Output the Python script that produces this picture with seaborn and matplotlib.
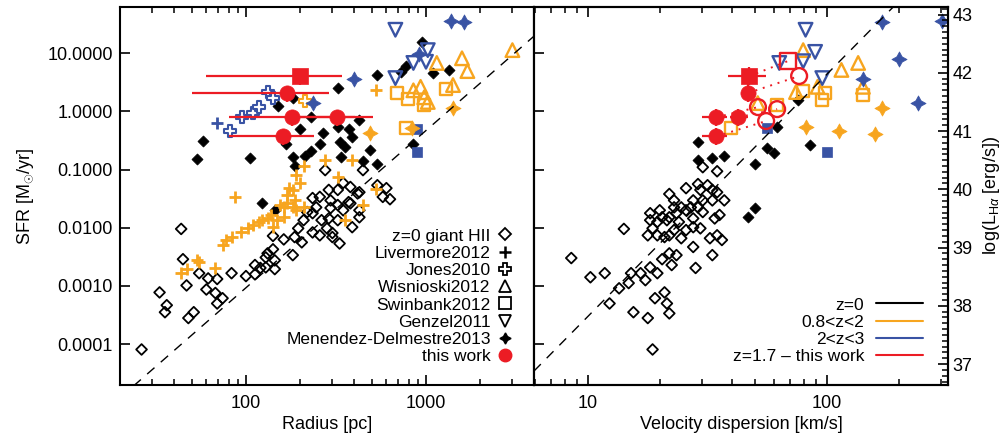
import numpy as np
import matplotlib
matplotlib.use('Agg')
import matplotlib.pyplot as plt
import seaborn as sns
from matplotlib.lines import Line2D
from matplotlib.ticker import FixedLocator, FuncFormatter, NullLocator, NullFormatter, MultipleLocator

ORANGE = '#F7A51F'
BLUE = '#3953A4'
RED = '#EC1C24'

# ---------------- left panel: log10 radius [pc] vs log10 SFR ----------------
hii_logr = [1.42, 1.52, 1.55, 1.56, 1.64, 1.65, 1.67, 1.68, 1.71, 1.74,
            1.78, 1.79, 1.84, 1.83, 1.87, 1.84, 1.92, 2.00, 2.05, 2.05,
            2.08, 2.11, 2.11, 2.12, 2.15, 2.16, 2.16, 2.15, 2.21, 2.26,
            2.27, 2.29, 2.31, 2.32, 2.37, 2.37, 2.41, 2.45, 2.48, 2.39,
            2.51, 2.37, 2.34, 2.46, 2.47, 2.51, 2.52, 2.59, 2.57, 2.63,
            2.63, 2.73, 2.76, 2.80, 2.78, 2.44, 2.65, 2.46, 2.51, 2.54,
            2.58, 2.47, 2.41, 2.42, 2.62, 2.63, 2.48, 2.54, 2.58]
hii_logsfr = [-4.09, -3.11, -3.45, -3.33, -2.02, -2.54, -2.99, -3.55, -3.45, -2.78,
              -3.06, -2.87, -2.88, -3.12, -3.21, -3.30, -2.78, -2.83, -2.80, -2.64,
              -2.69, -2.68, -2.51, -2.44, -2.37, -2.71, -2.56, -2.14, -2.20, -2.47,
              -2.16, -2.01, -2.25, -1.87, -1.75, -2.08, -2.13, -2.01, -2.16, -1.65,
              -1.87, -1.49, -1.73, -1.84, -1.66, -1.61, -2.27, -1.99, -1.56, -1.39,
              -1.70, -1.27, -1.47, -1.51, -1.32, -1.01, -1.01, -1.35, -1.35, -1.23,
              -1.30, -1.53, -1.47, -1.87, -1.41, -1.82, -2.09, -1.70, -1.58]

local_logr = [2.98, 2.89, 2.86, 2.73, 3.04, 3.13, 2.51, 2.26, 2.18, 2.36,
              2.63, 2.30, 2.51, 2.57, 2.43, 2.59, 2.52, 2.55, 2.22, 2.41,
              2.36, 2.69, 2.26, 2.53, 2.27, 2.65, 2.73, 1.76, 1.73, 2.02,
              2.93, 2.09, 2.16, 2.33]
local_logsfr = [1.19, 0.78, 0.67, 0.62, 0.66, 0.71, 0.40, 0.23, 0.09, -0.10,
                -0.15, -0.31, -0.27, -0.31, -0.38, -0.44, -0.53, -0.62, -0.56, -0.56,
                -0.68, -0.67, -0.79, -0.79, -0.94, -0.86, -0.91, -0.51, -0.82, -0.80,
                -0.56, -1.58, -1.70, -0.77]

liv_logr = [1.64, 1.67, 1.73, 1.74, 1.83, 1.87, 1.89, 1.92, 1.97, 2.01,
            2.04, 2.07, 2.09, 2.12, 2.14, 2.17, 2.21, 2.15, 2.19, 2.21,
            2.23, 2.26, 2.23, 2.27, 2.28, 2.32, 2.26, 1.94, 2.28, 2.30,
            2.32, 2.44, 2.51, 2.55, 2.59, 2.65, 2.72, 2.72, 2.24]
liv_logsfr = [-2.78, -2.71, -2.56, -2.59, -2.69, -2.30, -2.21, -2.16, -2.08, -2.01,
              -1.96, -1.90, -1.87, -1.84, -1.78, -1.87, -1.82, -1.99, -1.61, -1.65,
              -1.58, -1.35, -1.44, -1.53, -1.70, -1.65, -1.65, -1.47, -1.10, -1.23,
              -0.94, -0.84, -1.13, -1.87, -0.84, -1.61, -1.34, 0.36, -1.32]
liv_hz_logr = [1.84]
liv_hz_logsfr = [-0.20]

jones_logr = [1.91, 1.98, 2.04, 2.07, 2.12, 2.15]
jones_logsfr = [-0.34, -0.10, -0.03, 0.07, 0.33, 0.23]
jones_lz_logr = [2.33]
jones_lz_logsfr = [0.18]

wis_logr = [3.06, 3.20, 3.23, 3.48, 3.15, 2.97, 2.93, 3.01, 2.99]
wis_logsfr = [0.83, 0.91, 0.69, 1.05, 0.45, 0.42, 0.36, 0.16, 0.24]

swin_logr = [2.84, 2.90, 2.99, 3.11, 2.89]
swin_logsfr = [0.31, 0.21, 0.11, 0.38, -0.29]
swin_hz_logr = [2.95, 2.95]
swin_hz_logsfr = [-0.31, -0.70]

genz_logr = [2.83, 3.01, 2.93, 3.00, 2.83]
genz_logsfr = [1.40, 1.05, 0.83, 0.85, 0.57]

men_lz_logr = [3.15, 2.69, 2.92]
men_lz_logsfr = [0.06, -0.38, -0.29]
men_hz_logr = [2.60, 2.37, 3.14, 3.21, 2.96]
men_hz_logsfr = [0.55, 0.14, 1.55, 1.53, 0.98]

# this work (first entry is the square)
tw_sfr = [4.0, 2.06, 0.79, 0.79, 0.37]
tw_sfr_err_dex = [0.15, 0.15, 0.15, 0.15, 0.15]
tw_r = [200, 169, 180, 320, 161]
tw_r_lo = [60, 50, 80, 175, 80]
tw_r_hi = [341, 289, 404, 508, 239]

# ---------------- right panel: log10 sigma [km/s] vs log10 SFR ----------------
hii_logsig = [1.48, 1.54, 1.34, 1.36, 1.41, 1.46, 1.47, 1.50, 1.52, 1.54,
              1.57, 1.52, 1.48, 1.44, 1.43, 1.41, 1.39, 1.37, 1.34, 1.33,
              1.31, 1.29, 1.26, 1.26, 1.30, 1.36, 1.46, 1.48, 1.55, 1.53,
              1.47, 1.44, 1.44, 1.38, 1.36, 1.34, 1.32, 1.29, 1.25, 1.27,
              1.15, 1.39, 1.41, 1.51, 1.54, 1.56, 1.52, 1.44, 1.37, 1.34,
              1.31, 1.35, 1.45, 1.26, 1.29, 1.24, 1.18, 1.17, 1.13, 1.07,
              1.01, 0.93, 1.09, 1.19, 1.28, 1.32, 1.33, 1.34, 1.25, 1.27,
              1.22]
hii_logsfr_s = [-0.96, -1.03, -1.42, -1.53, -1.32, -1.25, -1.35, -1.27, -1.35, -1.39,
                -1.53, -1.53, -1.53, -1.53, -1.65, -1.70, -1.65, -1.75, -1.82, -1.87,
                -1.82, -1.90, -1.75, -1.87, -1.70, -1.65, -1.65, -1.73, -1.78, -1.84,
                -2.01, -1.99, -1.84, -1.90, -2.04, -2.13, -2.16, -2.13, -2.13, -2.01,
                -2.02, -2.18, -2.04, -2.18, -2.13, -2.21, -2.47, -2.33, -2.47, -2.44,
                -2.54, -2.64, -2.69, -2.68, -2.78, -2.90, -2.78, -2.95, -3.04, -2.78,
                -2.85, -2.52, -3.30, -3.45, -3.21, -3.11, -3.30, -3.47, -3.55, -4.09,
                -2.78]

local_logsig = [1.46, 1.46, 1.52, 1.57, 1.70, 1.75, 1.78, 1.79, 1.93, 1.88, 1.70, 1.67]
local_logsfr_s = [-0.53, -0.84, -0.80, -0.77, -0.91, -0.63, -0.72, -0.27, -0.58, 0.19, -1.66, -1.82]

swin_hz_logsig = [1.75, 2.00]
swin_hz_logsfr_s = [-0.29, -0.70]
swin_logsig = [1.90, 1.99, 1.98, 2.15, 1.79, 1.60]
swin_logsfr_s = [0.35, 0.31, 0.19, 0.28, 0.11, -0.29]

men_lz_logsig = [1.91, 2.05, 2.20, 2.23]
men_lz_logsfr_s = [-0.27, -0.34, -0.39, 0.06]
men_hz_logsig = [2.23, 2.48, 2.30, 2.15, 2.38]
men_hz_logsfr_s = [1.53, 1.55, 0.90, 0.55, 0.14]

genz_logsig = [1.91, 1.95, 1.90, 1.80, 1.98]
genz_logsfr_s = [1.40, 1.02, 0.86, 0.83, 0.57]

wis_logsig = [1.90, 2.06, 2.13, 2.15, 1.87, 1.96, 1.71]
wis_logsfr_s = [1.05, 0.71, 0.83, 0.42, 0.33, 0.42, 0.14]

tw_sig = [47.2, 46.7, 34.4, 42.5, 34.4]
tw_sig_lo = [38.5, 44.0, 30.0, 39.3, 30.0]
tw_sig_hi = [55.6, 50.0, 38.2, 46.7, 38.2]
tw_sig_alt = [68.7, 76.4, 51.4, 61.8, 55.6]
tw_sfr_alt = [7.3, 4.03, 1.18, 1.09, 0.68]

# reference relations (log SFR = slope * log x + zero point)
radius_slope, radius_zp = 2.70, -8.43
sigma_slope, sigma_zp = 4.16, -7.68
lum_offset = 41.34  # log L(Halpha) = log SFR + offset

log_sfr_lim = (-4.70, 1.79)
log_r_lim = (1.30, 3.60)
log_sig_lim = (0.774, 2.506)

sfr_ticks = [1e-4, 1e-3, 1e-2, 1e-1, 1.0, 10.0]
lum_ticks = [37, 38, 39, 40, 41, 42, 43]

sns.set_style('ticks')
plt.rcParams['font.family'] = ['Liberation Sans', 'DejaVu Sans']
plt.rcParams['mathtext.fontset'] = 'custom'
plt.rcParams['mathtext.rm'] = 'Liberation Sans'
plt.rcParams['mathtext.it'] = 'Liberation Sans:italic'
for key in ['text.color', 'axes.labelcolor', 'xtick.color', 'ytick.color', 'axes.edgecolor']:
    plt.rcParams[key] = 'black'

fig = plt.figure(figsize=(10.03, 4.40), dpi=100)
axL = fig.add_axes([0.1196, 0.125, 0.4128, 0.859])
axR = fig.add_axes([0.5324, 0.125, 0.4128, 0.859])


def scat(ax, lx, ly, **kw):
    sns.scatterplot(x=np.power(10.0, np.array(lx)), y=np.power(10.0, np.array(ly)),
                    ax=ax, legend=False, **kw)


def log_minor(lo, hi):
    return [m * 10.0 ** e for e in range(int(np.floor(lo)), int(np.ceil(hi)) + 1) for m in range(2, 10)]


STAR = (4, 1, 0)
open_d = dict(marker='D', s=30, color='k', facecolor='none', edgecolor='k', linewidth=1.3)
fill_d = dict(marker='D', s=32, color='k', edgecolor='k', linewidth=0.5)

for ax in (axL, axR):
    ax.set_xscale('log')
    ax.set_yscale('log')

# ---- left panel
xx = np.linspace(*log_r_lim, 50)
axL.plot(10 ** xx, 10 ** (radius_slope * xx + radius_zp), color='k', lw=1.0, ls=(0, (7, 6)))
scat(axL, hii_logr, hii_logsfr, **open_d)
scat(axL, local_logr, local_logsfr, **fill_d)
scat(axL, liv_logr, liv_logsfr, marker='+', s=70, color=ORANGE, linewidth=2.0)
scat(axL, liv_hz_logr, liv_hz_logsfr, marker='+', s=70, color=BLUE, linewidth=2.0)
scat(axL, jones_logr, jones_logsfr, marker='P', s=85, color=BLUE, facecolor='white', edgecolor=BLUE, linewidth=1.5)
scat(axL, jones_lz_logr, jones_lz_logsfr, marker='P', s=85, color=ORANGE, facecolor='white', edgecolor=ORANGE, linewidth=1.5)
scat(axL, wis_logr, wis_logsfr, marker='^', s=95, color=ORANGE, facecolor='none', edgecolor=ORANGE, linewidth=1.7)
scat(axL, swin_logr, swin_logsfr, marker='s', s=75, color=ORANGE, facecolor='none', edgecolor=ORANGE, linewidth=1.7)
scat(axL, swin_hz_logr, swin_hz_logsfr, marker='s', s=60, color=BLUE, edgecolor=BLUE, linewidth=0.5)
scat(axL, genz_logr, genz_logsfr, marker='v', s=95, color=BLUE, facecolor='none', edgecolor=BLUE, linewidth=1.7)
scat(axL, men_lz_logr, men_lz_logsfr, marker=STAR, s=120, color=ORANGE, edgecolor=ORANGE, linewidth=0.5)
scat(axL, men_hz_logr, men_hz_logsfr, marker=STAR, s=120, color=BLUE, edgecolor=BLUE, linewidth=0.5)

tw_sfr_a = np.array(tw_sfr)
tw_dlo = tw_sfr_a * (1 - 10 ** -np.array(tw_sfr_err_dex))
tw_dhi = tw_sfr_a * (10 ** np.array(tw_sfr_err_dex) - 1)
tw_r_a = np.array(tw_r, dtype=float)
axL.errorbar(tw_r_a, tw_sfr_a, xerr=[tw_r_a - tw_r_lo, np.array(tw_r_hi) - tw_r_a],
             yerr=[tw_dlo, tw_dlo * 0], fmt='none', ecolor=RED, elinewidth=1.6, capsize=0, zorder=5)
scat(axL, np.log10(tw_r[:1]), np.log10(tw_sfr[:1]), marker='s', s=120, color=RED, edgecolor=RED, linewidth=0.5, zorder=6)
scat(axL, np.log10(tw_r[1:]), np.log10(tw_sfr[1:]), marker='o', s=120, color=RED, edgecolor=RED, linewidth=0.5, zorder=6)

# ---- right panel
xs = np.linspace(*log_sig_lim, 50)
axR.plot(10 ** xs, 10 ** (sigma_slope * xs + sigma_zp), color='k', lw=1.0, ls=(0, (7, 6)))
scat(axR, hii_logsig, hii_logsfr_s, **open_d)
scat(axR, local_logsig, local_logsfr_s, **fill_d)
scat(axR, wis_logsig, wis_logsfr_s, marker='^', s=95, color=ORANGE, facecolor='none', edgecolor=ORANGE, linewidth=1.7)
scat(axR, swin_logsig, swin_logsfr_s, marker='s', s=75, color=ORANGE, facecolor='none', edgecolor=ORANGE, linewidth=1.7)
scat(axR, swin_hz_logsig, swin_hz_logsfr_s, marker='s', s=60, color=BLUE, edgecolor=BLUE, linewidth=0.5)
scat(axR, genz_logsig, genz_logsfr_s, marker='v', s=95, color=BLUE, facecolor='none', edgecolor=BLUE, linewidth=1.7)
scat(axR, men_lz_logsig, men_lz_logsfr_s, marker=STAR, s=120, color=ORANGE, edgecolor=ORANGE, linewidth=0.5)
scat(axR, men_hz_logsig, men_hz_logsfr_s, marker=STAR, s=120, color=BLUE, edgecolor=BLUE, linewidth=0.5)

for i in range(len(tw_sig)):
    axR.plot([tw_sig[i], tw_sig_alt[i]], [tw_sfr[i], tw_sfr_alt[i]], color=RED, lw=1.4, ls=(0, (1, 3)), zorder=5)
tw_sig_a = np.array(tw_sig)
axR.errorbar(tw_sig_a, tw_sfr_a, xerr=[tw_sig_a - tw_sig_lo, np.array(tw_sig_hi) - tw_sig_a],
             yerr=[tw_dlo, tw_dhi], fmt='none', ecolor=RED, elinewidth=1.6, capsize=0, zorder=5)
scat(axR, np.log10(tw_sig[:1]), np.log10(tw_sfr[:1]), marker='s', s=120, color=RED, edgecolor=RED, linewidth=0.5, zorder=6)
scat(axR, np.log10(tw_sig[1:]), np.log10(tw_sfr[1:]), marker='o', s=120, color=RED, edgecolor=RED, linewidth=0.5, zorder=6)
scat(axR, np.log10(tw_sig_alt[:1]), np.log10(tw_sfr_alt[:1]), marker='s', s=130, color=RED, facecolor='none', edgecolor=RED, linewidth=1.7, zorder=6)
scat(axR, np.log10(tw_sig_alt[1:]), np.log10(tw_sfr_alt[1:]), marker='o', s=130, color=RED, facecolor='none', edgecolor=RED, linewidth=1.7, zorder=6)

# ---- axes styling
for ax, xlim in ((axL, log_r_lim), (axR, log_sig_lim)):
    ax.set_ylim(10 ** log_sfr_lim[0], 10 ** log_sfr_lim[1])
    ax.set_xlim(10 ** xlim[0], 10 ** xlim[1])
    ax.tick_params(which='major', direction='in', length=7, width=1.2, labelsize=13, pad=7, color='k')
    ax.tick_params(which='minor', direction='in', length=4, width=1.1, color='k')
    ax.tick_params(axis='x', which='both', top=True, bottom=True)
    ax.tick_params(axis='y', which='both', left=True, right=False)
    ax.xaxis.set_minor_locator(FixedLocator(log_minor(*xlim)))
    ax.xaxis.set_minor_formatter(NullFormatter())
    ax.xaxis.set_major_formatter(FuncFormatter(lambda v, p: f'{v:g}'))
    ax.yaxis.set_major_locator(FixedLocator(sfr_ticks))
    ax.yaxis.set_minor_locator(NullLocator())
    ax.yaxis.set_minor_formatter(NullFormatter())
    for sp in ax.spines.values():
        sp.set_linewidth(1.5)
        sp.set_color('k')

axL.xaxis.set_major_locator(FixedLocator([100, 1000]))
axR.xaxis.set_major_locator(FixedLocator([10, 100]))
axL.yaxis.set_major_formatter(FuncFormatter(lambda v, p: f'{v:.4f}'))
axL.tick_params(axis='y', pad=5)
axR.tick_params(axis='y', labelleft=False)

axT = axR.twinx()
axT.set_ylim(log_sfr_lim[0] + lum_offset, log_sfr_lim[1] + lum_offset)
axT.yaxis.set_major_locator(FixedLocator(lum_ticks))
axT.yaxis.set_minor_locator(MultipleLocator(0.1))
axT.tick_params(which='major', direction='in', length=7, width=1.2, labelsize=13, pad=3, color='k')
axT.tick_params(which='minor', direction='in', length=4, width=1.1, color='k')
for sp in axT.spines.values():
    sp.set_linewidth(1.5)
    sp.set_color('k')

axL.set_xlabel('Radius [pc]', fontsize=13, labelpad=3)
axR.set_xlabel('Velocity dispersion [km/s]', fontsize=13, labelpad=3)
axL.set_ylabel(r'SFR [M$_{\odot}$/yr]', fontsize=13, labelpad=8)
axT.set_ylabel(r'log(L$_{\mathrm{H}\alpha}$ [erg/s])', fontsize=13, labelpad=6)

# ---- legends
handles_L = [
    Line2D([], [], ls='none', marker='D', mfc='none', mec='k', ms=6, mew=1.3),
    Line2D([], [], ls='none', marker='+', color='k', ms=9, mew=1.8),
    Line2D([], [], ls='none', marker='P', mfc='white', mec='k', ms=9, mew=1.3),
    Line2D([], [], ls='none', marker='^', mfc='none', mec='k', ms=9, mew=1.3),
    Line2D([], [], ls='none', marker='s', mfc='none', mec='k', ms=8, mew=1.3),
    Line2D([], [], ls='none', marker='v', mfc='none', mec='k', ms=9, mew=1.3),
    Line2D([], [], ls='none', marker=STAR, color='k', ms=8),
    Line2D([], [], ls='none', marker='o', color=RED, ms=9),
]
labels_L = ['z=0 giant HII', 'Livermore2012', 'Jones2010', 'Wisnioski2012',
            'Swinbank2012', 'Genzel2011', 'Menendez-Delmestre2013', 'this work']
axL.legend(handles_L, labels_L, loc='lower right', bbox_to_anchor=(0.948, 0.055),
           markerfirst=False, frameon=False, fontsize=12.5, handlelength=0.9,
           handletextpad=0.35, labelspacing=0.12, borderaxespad=0, borderpad=0)

handles_R = [Line2D([], [], color=c, lw=1.5) for c in ['k', ORANGE, BLUE, RED]]
labels_R = ['z=0', '0.8<z<2', '2<z<3', 'z=1.7 \u2013 this work']
axR.legend(handles_R, labels_R, loc='lower right', bbox_to_anchor=(0.94, 0.055),
           markerfirst=False, frameon=False, fontsize=12.5, handlelength=2.7,
           handletextpad=0.7, labelspacing=0.12, borderaxespad=0, borderpad=0)

fig.savefig('out.png', dpi=100)
